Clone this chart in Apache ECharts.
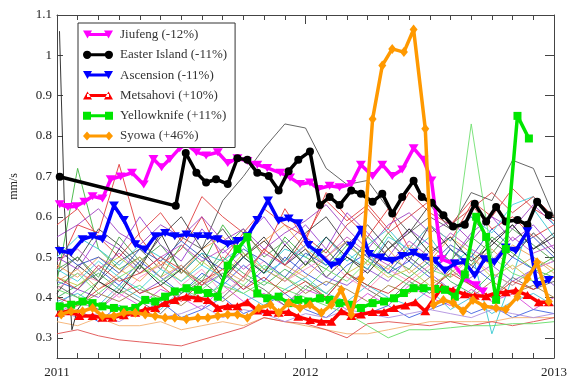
<!DOCTYPE html>
<html><head><meta charset="utf-8">
<script src="https://cdn.jsdelivr.net/npm/echarts@6/dist/echarts.min.js"></script>
<style>html,body{margin:0;padding:0;background:#fff}#c{width:570px;height:379px}</style>
</head><body><div id="c"></div><script>
// ---------- axis ticks ----------
const xTicks = [2011, 2012, 2013];
const yTicks = [0.3, 0.4, 0.5, 0.6, 0.7, 0.8, 0.9, 1.0, 1.1];
const yAxisName = 'mm/s';

// ---------- highlighted stations (time in years, value in mm/s) ----------
const names = ['Jiufeng (-12%)', 'Easter Island (-11%)', 'Ascension (-11%)', 'Metsahovi (+10%)', 'Yellowknife (+11%)', 'Syowa (+46%)'];

const jiufeng = [[2011.011,0.631],[2011.044,0.624],[2011.077,0.626],[2011.110,0.637],[2011.143,0.651],[2011.183,0.645],[2011.216,0.693],[2011.256,0.700],[2011.302,0.709],[2011.349,0.680],[2011.388,0.743],[2011.421,0.723],[2011.454,0.743],[2011.494,0.770],[2011.521,0.780],[2011.561,0.760],[2011.600,0.752],[2011.647,0.760],[2011.687,0.733],[2011.726,0.745],[2011.766,0.738],[2011.806,0.729],[2011.846,0.721],[2011.899,0.709],[2011.938,0.697],[2011.978,0.681],[2012.018,0.685],[2012.051,0.669],[2012.097,0.677],[2012.137,0.673],[2012.184,0.681],[2012.223,0.729],[2012.270,0.701],[2012.309,0.729],[2012.349,0.701],[2012.389,0.717],[2012.435,0.770],[2012.475,0.741],[2012.507,0.690],[2012.548,0.495],[2012.594,0.484],[2012.641,0.447],[2012.686,0.430],[2012.714,0.415]];

const easterIsland = [[2011.011,0.699],[2011.478,0.627],[2011.518,0.758],[2011.561,0.709],[2011.600,0.685],[2011.640,0.693],[2011.687,0.681],[2011.726,0.745],[2011.766,0.741],[2011.806,0.709],[2011.852,0.701],[2011.892,0.665],[2011.932,0.713],[2011.971,0.741],[2012.018,0.762],[2012.058,0.629],[2012.097,0.649],[2012.137,0.629],[2012.184,0.665],[2012.223,0.657],[2012.270,0.637],[2012.309,0.657],[2012.349,0.608],[2012.389,0.649],[2012.435,0.689],[2012.468,0.649],[2012.508,0.635],[2012.555,0.604],[2012.594,0.576],[2012.641,0.580],[2012.681,0.632],[2012.727,0.588],[2012.767,0.624],[2012.806,0.588],[2012.853,0.592],[2012.893,0.580],[2012.932,0.637],[2012.979,0.604]];

const ascension = [[2011.011,0.515],[2011.057,0.511],[2011.103,0.544],[2011.143,0.552],[2011.183,0.544],[2011.229,0.628],[2011.269,0.592],[2011.315,0.532],[2011.355,0.519],[2011.395,0.552],[2011.435,0.560],[2011.474,0.552],[2011.521,0.556],[2011.567,0.552],[2011.607,0.552],[2011.647,0.544],[2011.687,0.532],[2011.726,0.540],[2011.766,0.552],[2011.806,0.592],[2011.849,0.640],[2011.892,0.590],[2011.932,0.596],[2011.971,0.584],[2012.011,0.530],[2012.051,0.511],[2012.104,0.479],[2012.137,0.487],[2012.184,0.528],[2012.223,0.568],[2012.256,0.508],[2012.303,0.499],[2012.349,0.491],[2012.389,0.503],[2012.435,0.511],[2012.475,0.499],[2012.522,0.491],[2012.561,0.467],[2012.601,0.484],[2012.641,0.487],[2012.681,0.455],[2012.720,0.495],[2012.760,0.487],[2012.806,0.524],[2012.846,0.516],[2012.893,0.564],[2012.932,0.431],[2012.979,0.443]];

const metsahovi = [[2011.011,0.362],[2011.050,0.366],[2011.090,0.354],[2011.143,0.354],[2011.183,0.350],[2011.223,0.350],[2011.269,0.356],[2011.315,0.362],[2011.355,0.370],[2011.395,0.374],[2011.435,0.386],[2011.474,0.394],[2011.521,0.402],[2011.567,0.398],[2011.607,0.394],[2011.647,0.374],[2011.687,0.378],[2011.726,0.378],[2011.766,0.388],[2011.806,0.368],[2011.846,0.364],[2011.892,0.362],[2011.932,0.364],[2011.971,0.352],[2012.018,0.344],[2012.064,0.340],[2012.104,0.340],[2012.144,0.366],[2012.184,0.354],[2012.223,0.358],[2012.270,0.364],[2012.316,0.364],[2012.356,0.374],[2012.402,0.380],[2012.442,0.388],[2012.482,0.366],[2012.548,0.425],[2012.594,0.418],[2012.641,0.408],[2012.681,0.404],[2012.727,0.403],[2012.767,0.411],[2012.806,0.413],[2012.846,0.417],[2012.893,0.406],[2012.939,0.388],[2012.979,0.388]];

const yellowknife = [[2011.011,0.378],[2011.057,0.382],[2011.103,0.390],[2011.143,0.386],[2011.183,0.378],[2011.229,0.374],[2011.269,0.370],[2011.315,0.374],[2011.355,0.394],[2011.395,0.390],[2011.435,0.402],[2011.474,0.415],[2011.521,0.423],[2011.567,0.419],[2011.607,0.411],[2011.647,0.402],[2011.687,0.479],[2011.726,0.520],[2011.766,0.550],[2011.806,0.410],[2011.846,0.398],[2011.892,0.402],[2011.932,0.386],[2011.971,0.394],[2012.011,0.390],[2012.058,0.398],[2012.097,0.394],[2012.137,0.386],[2012.184,0.382],[2012.223,0.374],[2012.270,0.386],[2012.316,0.390],[2012.356,0.398],[2012.396,0.411],[2012.435,0.423],[2012.475,0.423],[2012.522,0.421],[2012.561,0.419],[2012.601,0.402],[2012.641,0.457],[2012.687,0.600],[2012.727,0.550],[2012.767,0.394],[2012.806,0.520],[2012.853,0.850],[2012.899,0.794]];

const syowa = [[2011.017,0.358],[2011.057,0.366],[2011.103,0.366],[2011.143,0.374],[2011.183,0.354],[2011.229,0.354],[2011.269,0.362],[2011.315,0.362],[2011.355,0.358],[2011.395,0.354],[2011.435,0.350],[2011.474,0.350],[2011.521,0.346],[2011.567,0.350],[2011.607,0.350],[2011.647,0.354],[2011.687,0.358],[2011.726,0.358],[2011.766,0.350],[2011.812,0.374],[2011.859,0.382],[2011.892,0.362],[2011.932,0.386],[2011.978,0.374],[2012.018,0.382],[2012.064,0.362],[2012.104,0.382],[2012.144,0.419],[2012.184,0.358],[2012.223,0.447],[2012.270,0.842],[2012.309,0.975],[2012.349,1.016],[2012.396,1.008],[2012.435,1.064],[2012.482,0.818],[2012.515,0.382],[2012.555,0.394],[2012.594,0.386],[2012.634,0.366],[2012.674,0.394],[2012.720,0.378],[2012.767,0.374],[2012.806,0.370],[2012.853,0.402],[2012.893,0.447],[2012.932,0.487],[2012.979,0.390]];

// ---------- other stations (monthly values, thin lines) ----------
const months = [2011.000,2011.083,2011.167,2011.250,2011.333,2011.417,2011.500,2011.583,2011.667,2011.750,2011.833,2011.917,2012.000,2012.083,2012.167,2012.250,2012.333,2012.417,2012.500,2012.583,2012.667,2012.750,2012.833,2012.917,2013.000];

const bg01 = [0.46,0.50,0.44,0.49,0.52,0.47,0.55,0.52,0.64,0.70,0.77,0.83,0.82,0.72,0.68,0.69,0.62,0.56,0.60,0.57,0.66,0.64,0.74,0.72,0.60];
const bg02 = [0.47,0.58,0.56,0.73,0.55,0.48,0.52,0.60,0.49,0.56,0.51,0.62,0.54,0.66,0.60,0.55,0.62,0.52,0.58,0.54,0.63,0.57,0.60,0.55,0.58];
const bg03 = [0.44,0.72,0.52,0.47,0.50,0.45,0.53,0.48,0.58,0.51,0.46,0.55,0.50,0.47,0.53,0.49,0.56,0.50,0.46,0.52,0.48,0.55,0.51,0.47,0.50];
const bg04 = [0.50,0.47,0.55,0.52,0.60,0.53,0.49,0.57,0.51,0.55,0.60,0.53,0.58,0.52,0.61,0.56,0.50,0.57,0.53,0.49,0.56,0.60,0.54,0.58,0.52];
const bg05 = [0.41,0.48,0.44,0.52,0.47,0.56,0.46,0.51,0.44,0.50,0.55,0.48,0.52,0.45,0.50,0.47,0.54,0.49,0.58,0.52,0.47,0.54,0.50,0.56,0.51];
const bg06 = [0.44,0.42,0.47,0.43,0.49,0.45,0.41,0.46,0.43,0.48,0.44,0.50,0.46,0.43,0.48,0.51,0.46,0.49,0.45,0.52,0.48,0.44,0.50,0.47,0.49];
const bg07 = [0.50,0.55,0.52,0.48,0.53,0.50,0.46,0.51,0.49,0.53,0.47,0.52,0.50,0.55,0.49,0.53,0.57,0.51,0.55,0.48,0.52,0.31,0.45,0.62,0.55];
const bg08 = [0.48,0.45,0.50,0.47,0.44,0.49,0.46,0.52,0.55,0.50,0.54,0.58,0.52,0.48,0.54,0.50,0.47,0.53,0.49,0.55,0.51,0.48,0.53,0.50,0.47];
const bg09 = [0.58,0.62,0.55,0.50,0.56,0.61,0.54,0.65,0.60,0.56,0.62,0.58,0.55,0.64,0.59,0.63,0.57,0.66,0.61,0.58,0.64,0.60,0.67,0.62,0.59];
const bg10 = [0.38,0.42,0.40,0.45,0.41,0.44,0.48,0.43,0.46,0.42,0.47,0.44,0.49,0.45,0.43,0.47,0.44,0.50,0.46,0.42,0.45,0.48,0.44,0.47,0.43];
const bg11 = [0.40,0.43,0.46,0.42,0.48,0.44,0.41,0.45,0.50,0.46,0.43,0.47,0.44,0.41,0.46,0.43,0.48,0.45,0.49,0.44,0.41,0.46,0.43,0.47,0.45];
const bg12 = [0.36,0.39,0.37,0.41,0.38,0.42,0.40,0.37,0.43,0.39,0.41,0.38,0.42,0.40,0.37,0.41,0.38,0.43,0.40,0.38,0.42,0.39,0.41,0.37,0.40];
const bg13 = [0.43,0.40,0.37,0.42,0.39,0.36,0.41,0.44,0.40,0.45,0.42,0.38,0.43,0.40,0.46,0.42,0.39,0.44,0.41,0.47,0.43,0.40,0.45,0.42,0.44];
const bg14 = [0.35,0.37,0.34,0.38,0.36,0.39,0.35,0.37,0.40,0.36,0.38,0.41,0.37,0.35,0.39,0.36,0.38,0.35,0.37,0.39,0.36,0.38,0.35,0.37,0.36];
const bg15 = [0.45,0.43,0.47,0.50,0.46,0.48,0.44,0.49,0.45,0.51,0.47,0.44,0.48,0.52,0.46,0.49,0.45,0.47,0.43,0.46,0.50,0.45,0.48,0.44,0.47];
const bg16 = [0.39,0.41,0.38,0.43,0.40,0.37,0.42,0.39,0.44,0.41,0.38,0.42,0.45,0.41,0.39,0.43,0.40,0.38,0.42,0.37,0.40,0.36,0.39,0.41,0.38];
const bg17 = [0.34,0.33,0.35,0.33,0.33,0.34,0.32,0.33,0.34,0.33,0.35,0.34,0.33,0.32,0.31,0.31,0.32,0.33,0.34,0.34,0.34,0.34,0.35,0.35,0.35];
const bg18 = [0.31,0.32,0.305,0.295,0.29,0.285,0.28,0.295,0.31,0.325,0.35,0.34,0.335,0.32,0.30,0.335,0.34,0.335,0.33,0.34,0.33,0.34,0.33,0.34,0.35];
const bg19 = [0.42,0.40,0.44,0.41,0.43,0.39,0.42,0.40,0.43,0.41,0.44,0.42,0.40,0.38,0.36,0.33,0.30,0.32,0.32,0.325,0.33,0.33,0.335,0.335,0.34];
const bg20 = [0.37,0.35,0.36,0.34,0.37,0.35,0.36,0.38,0.35,0.37,0.36,0.34,0.36,0.35,0.37,0.36,0.35,0.36,0.37,0.36,0.35,0.37,0.36,0.35,0.36];
const bg21 = [0.42,0.46,0.44,0.40,0.45,0.48,0.43,0.47,0.41,0.45,0.49,0.44,0.47,0.50,0.45,0.42,0.47,0.44,0.48,0.45,0.50,0.46,0.43,0.47,0.49];
const bg22 = [0.53,0.49,0.57,0.53,0.48,0.55,0.60,0.52,0.57,0.50,0.54,0.49,0.56,0.60,0.53,0.58,0.52,0.56,0.63,0.57,0.60,0.54,0.58,0.52,0.56];
const bg23 = [0.47,0.50,0.45,0.55,0.49,0.53,0.47,0.44,0.52,0.57,0.50,0.54,0.48,0.52,0.46,0.55,0.50,0.47,0.53,0.49,0.55,0.51,0.57,0.53,0.49];
const bg24 = [0.52,0.48,0.50,0.46,0.52,0.49,0.54,0.50,0.47,0.52,0.49,0.45,0.51,0.48,0.54,0.50,0.46,0.52,0.48,0.53,0.50,0.57,0.52,0.55,0.50];
const bg25 = [0.40,0.38,0.42,0.45,0.41,0.43,0.39,0.44,0.47,0.42,0.45,0.41,0.44,0.40,0.46,0.43,0.41,0.45,0.42,0.46,0.43,0.40,0.44,0.42,0.45];
const bg26 = [0.55,0.58,0.62,0.56,0.53,0.58,0.55,0.60,0.54,0.57,0.52,0.56,0.59,0.63,0.57,0.52,0.58,0.61,0.56,0.59,0.54,0.60,0.57,0.63,0.58];
const bg27 = [0.44,0.47,0.42,0.46,0.50,0.45,0.48,0.43,0.47,0.44,0.52,0.48,0.45,0.50,0.54,0.48,0.52,0.46,0.50,0.45,0.48,0.52,0.47,0.50,0.46];
const bg28 = [0.47,0.44,0.49,0.45,0.42,0.47,0.44,0.48,0.45,0.50,0.46,0.49,0.53,0.48,0.51,0.47,0.55,0.52,0.58,0.54,0.60,0.56,0.63,0.65,0.58];
const bg29 = [0.49,0.52,0.47,0.51,0.46,0.50,0.53,0.49,0.52,0.47,0.51,0.48,0.53,0.50,0.55,0.51,0.48,0.54,0.50,0.56,0.52,0.49,0.55,0.51,0.53];
const bg30 = [0.36,0.38,0.41,0.39,0.42,0.40,0.38,0.42,0.39,0.43,0.40,0.45,0.41,0.44,0.42,0.39,0.43,0.41,0.45,0.42,0.40,0.44,0.41,0.43,0.40];
const bg31 = [0.43,0.46,0.41,0.45,0.48,0.44,0.47,0.42,0.46,0.43,0.48,0.45,0.42,0.47,0.44,0.49,0.46,0.43,0.47,0.45,0.83,0.50,0.46,0.44,0.47];
const bg32 = [0.45,0.42,0.48,0.44,0.46,0.50,0.47,0.43,0.49,0.45,0.52,0.48,0.55,0.51,0.58,0.62,0.56,0.60,0.64,0.58,0.62,0.66,0.61,0.65,0.60];
const bgSpike = [[2011.010,1.06],[2011.030,0.62],[2011.060,0.32],[2011.083,0.37],[2011.167,0.44],[2011.250,0.41],[2011.333,0.48],[2011.417,0.43],[2011.500,0.47],[2011.583,0.52],[2011.667,0.45],[2011.750,0.50],[2011.833,0.46],[2011.917,0.53],[2012.000,0.48],[2012.083,0.55],[2012.167,0.50],[2012.250,0.46],[2012.333,0.52],[2012.417,0.57],[2012.500,0.51],[2012.583,0.55],[2012.667,0.49],[2012.750,0.53],[2012.833,0.58],[2012.917,0.52],[2013.000,0.55]];

const bgLines = [bg01,bg02,bg03,bg04,bg05,bg06,bg07,bg08,bg09,bg10,bg11,bg12,bg13,bg14,bg15,bg16,bg17,bg18,bg19,bg20,bg21,bg22,bg23,bg24,bg25,bg26,bg27,bg28,bg29,bg30,bg31,bg32];
const bgColors = ['#555555','#e23b3b','#3fb63f','#9a3fd0','#333333','#3355dd','#33c8d0','#f0a050','#e04040','#9050d0','#40b060','#d848d8','#666666','#4060e0','#c8c840','#40c0d8','#f5b070','#e05050','#66dd66','#b090e0','#ff90c0','#404040','#50a050','#3050c0','#d03030','#a040c0','#e0a060','#40d0e0','#c050c0','#a08040','#70e070','#d04040'];

// ---------- build chart ----------
const mainData = [jiufeng, easterIsland, ascension, metsahovi, yellowknife, syowa];
const mainColors = ['#ff00ff', '#000000', '#0000ff', '#ff0000', '#00e600', '#ff9900'];
const mainSymbols = ['triangle', 'circle', 'triangle', 'triangle', 'rect', 'diamond'];
const mainRotate = [180, 0, 180, 0, 0, 0];
const mainSize = [[10, 8], 8, [10, 8], [10, 8], 8, [8, 10]];
const legendIcons = [
  'path://M0,1H9L4.5,9Z M21,1H30L25.5,9Z M4,3.5H26V6.5H4Z',
  'path://M0.5,5A4,4 0 1,1 8.5,5A4,4 0 1,1 0.5,5Z M21.5,5A4,4 0 1,1 29.5,5A4,4 0 1,1 21.5,5Z M4,3.5H26V6.5H4Z',
  'path://M0,1H9L4.5,9Z M21,1H30L25.5,9Z M4,3.5H26V6.5H4Z',
  'path://M0,9H9L4.5,1Z M21,9H30L25.5,1Z M4,3.5H26V6.5H4Z',
  'path://M0,1H8V9H0Z M22,1H30V9H22Z M4,3.5H26V6.5H4Z',
  'path://M4,0.5L8,5L4,9.5L0,5Z M26,0.5L30,5L26,9.5L22,5Z M4,3.5H26V6.5H4Z'
];

const series = [];
bgLines.forEach((vals, i) => {
  series.push({
    type: 'line', data: months.map((t, j) => [t, vals[j]]),
    symbol: 'none', silent: true, z: 1,
    lineStyle: { width: 1, color: bgColors[i], opacity: 0.9 }
  });
});
series.push({
  type: 'line', data: bgSpike, symbol: 'none', silent: true, z: 1,
  lineStyle: { width: 1, color: '#222222', opacity: 0.9 }
});
mainData.forEach((d, i) => {
  series.push({
    name: names[i], type: 'line', data: d, z: 3 + i,
    symbol: mainSymbols[i], symbolSize: mainSize[i], symbolRotate: mainRotate[i],
    showSymbol: true, silent: true,
    itemStyle: { color: mainColors[i] },
    lineStyle: { width: 3.5, color: mainColors[i] }
  });
});

const axisColor = '#444';
const serif = 'Liberation Serif';
const xBase = (pos, show) => ({
  type: 'value', min: 2011, max: 2013, interval: 1, position: pos,
  axisLine: { show: true, onZero: false, lineStyle: { color: axisColor, width: 1 } },
  axisTick: { show: true, inside: true, length: 9, lineStyle: { color: axisColor } },
  minorTick: { show: true, splitNumber: 12, length: 5, lineStyle: { color: axisColor } },
  axisLabel: { show: show, margin: 8, fontFamily: serif, fontSize: 13, color: '#222',
    formatter: v => String(xTicks.find(t => Math.abs(t - v) < 1e-6) ?? '') },
  splitLine: { show: false }, minorSplitLine: { show: false }
});
const yBase = (pos, show, len) => ({
  type: 'value', min: 0.25, max: 1.1, position: pos,
  axisLine: { show: true, onZero: false, lineStyle: { color: axisColor, width: 1 } },
  axisTick: { show: true, inside: true, length: len, customValues: yTicks, lineStyle: { color: axisColor } },
  axisLabel: { show: show, customValues: yTicks, margin: 5, fontFamily: serif, fontSize: 13, color: '#222',
    formatter: v => String(Math.round(v * 10) / 10) },
  splitLine: { show: false }
});

const chart = echarts.init(document.getElementById('c'), null, { renderer: 'canvas' });
chart.setOption({
  animation: false,
  backgroundColor: '#fff',
  grid: { left: 54, right: 13, top: 15, bottom: 15, containLabel: false },
  xAxis: [xBase('bottom', true), xBase('top', false)],
  yAxis: [
    Object.assign(yBase('left', true, 6), { name: yAxisName, nameLocation: 'middle', nameGap: 37, nameRotate: 90,
      nameTextStyle: { fontFamily: serif, fontSize: 12, color: '#222' } }),
    yBase('right', false, 9)
  ],
  legend: {
    show: true, orient: 'vertical', left: 78, top: 23,
    data: names.map((n, i) => ({ name: n, icon: legendIcons[i] })),
    itemWidth: 30, itemHeight: 9, itemGap: 7.3,
    padding: [5, 8, 5, 5],
    backgroundColor: '#fff', borderColor: '#333', borderWidth: 1,
    textStyle: { fontFamily: serif, fontSize: 13, color: '#333', padding: [0, 0, 0, 2] },
    selectedMode: false
  },
  series: series
});
</script></body></html>
